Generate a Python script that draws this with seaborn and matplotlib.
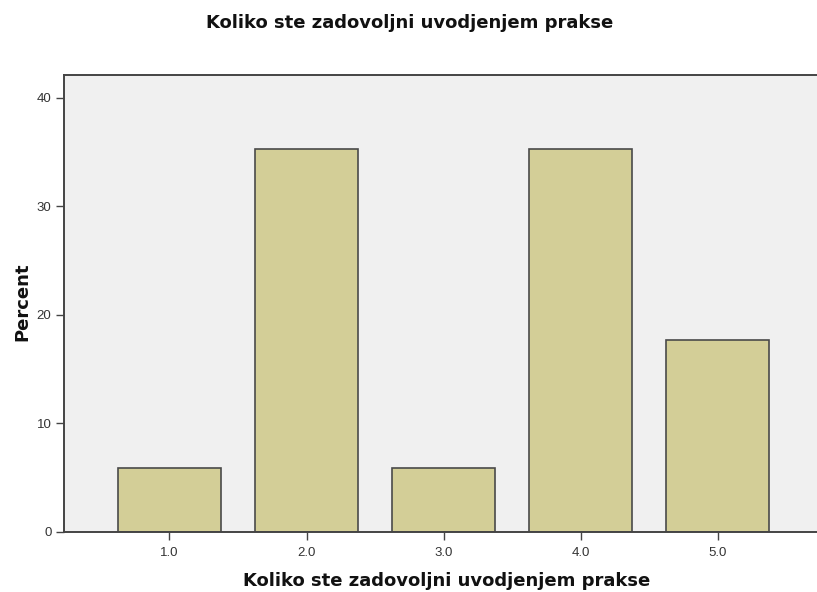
import matplotlib
matplotlib.use('Agg')
import matplotlib.pyplot as plt
import seaborn as sns
import pandas as pd

CATEGORIES = ["1.0", "2.0", "3.0", "4.0", "5.0"]
PERCENT = [5.88, 35.29, 5.88, 35.29, 17.65]
Y_TICKS = [0, 10, 20, 30, 40]
TITLE = "Koliko ste zadovoljni uvodjenjem prakse"

sns.set_style("white")
plt.rcParams['font.family'] = ['Liberation Sans', 'DejaVu Sans']

df = pd.DataFrame({"cat": CATEGORIES, "pct": PERCENT})

fig = plt.figure(figsize=(8.17, 5.92), dpi=100)
ax = fig.add_axes([64 / 817, 1 - 532 / 592, 1 - 64 / 817, (532 - 75) / 592])
ax.set_facecolor("#f0f0f0")

sns.barplot(data=df, x="cat", y="pct", order=CATEGORIES, color="#d3ce97",
            width=0.75, edgecolor="#4a4a4a", linewidth=1.2, saturation=1, ax=ax)

ax.set_xlim(-0.77, 4.726)
ax.set_ylim(0, 42.1)
ax.set_yticks(Y_TICKS)
ax.set_yticklabels([str(t) for t in Y_TICKS])

for side in ["left", "bottom", "top"]:
    ax.spines[side].set_color("#444444")
    ax.spines[side].set_linewidth(1.4)
ax.spines["right"].set_visible(False)

ax.tick_params(axis="both", direction="out", length=6, width=1, color="#444444",
               labelsize=9.5, labelcolor="#333333", left=True, bottom=True, pad=3)
ax.tick_params(axis="x", pad=5)

bold = dict(fontsize=13, fontweight="bold", color="#111111", family="DejaVu Sans")
ax.set_xlabel(TITLE, va="center", **bold)
ax.xaxis.set_label_coords(447 / 817, 1 - 581 / 592, transform=fig.transFigure)
ax.set_ylabel("Percent", va="center", **bold)
ax.yaxis.set_label_coords(22 / 817, 1 - 302 / 592, transform=fig.transFigure)
fig.text(410 / 817, 1 - 23 / 592, TITLE, ha="center", va="center", **bold)

fig.savefig("out.png", dpi=100)
